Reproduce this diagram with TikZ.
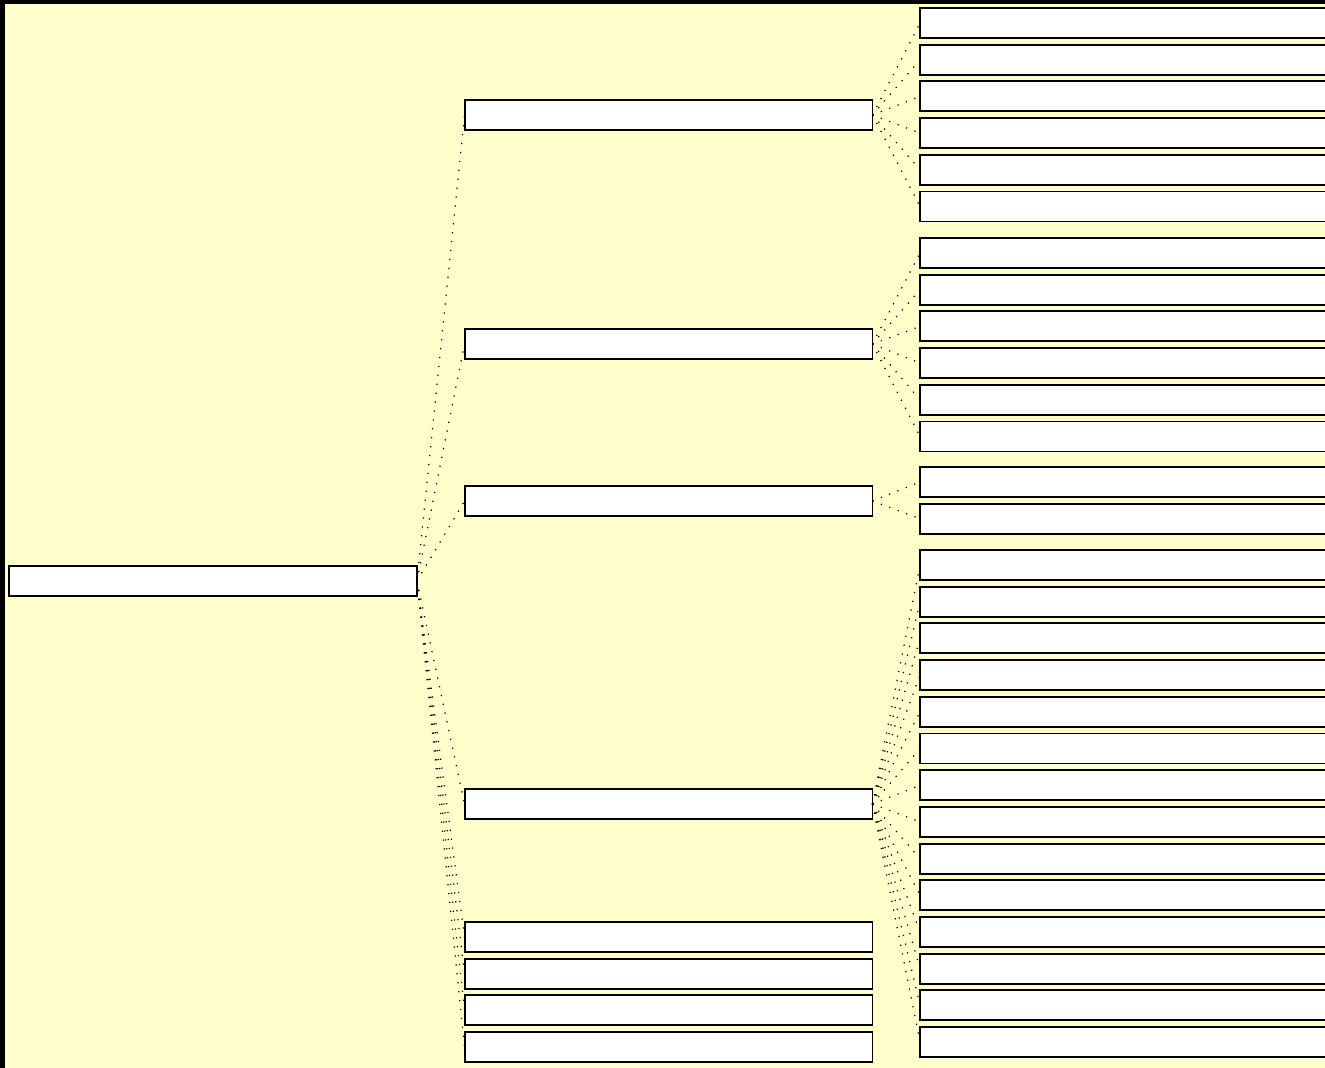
\documentclass[tikz,border=0pt]{standalone}
\usepackage{xcolor}
\usepackage{tikz}
\usetikzlibrary{positioning}
\definecolor{paleyellow}{HTML}{FFFFCC}
\begin{document}
\begin{tikzpicture}[
  x=0.02cm, y=-0.02cm,
  box/.style={draw, fill=white, line width=1.1pt, rectangle, minimum width=8.16cm, minimum height=0.6cm, inner sep=0pt, outer sep=0pt},
  link/.style={line width=0.7pt, dash pattern=on 0.7pt off 4.4pt},
]
  % Canvas
  \fill[black] (0,0) rectangle (1325,1068);
  \fill[paleyellow] (5,4) rectangle (1325,1068);
  \useasboundingbox (0,0) rectangle (1325,1068);

  % Root
  \node[box] (root) at (213,581) {};

  % First level
  \foreach \n/\y in {1/115,2/344,3/501,4/804,5/937,6/973.7,7/1010.4,8/1047.1} {
    \node[box] (c\n) at (668.5,\y) {};
    \draw[link] (root.east) -- (c\n.west);
  }

  % Second level
  \foreach \k in {1,...,6} {
    \node[box] (ga\k) at (1124,{23+36.7*(\k-1)}) {};
    \draw[link] (c1.east) -- (ga\k.west);
  }
  \foreach \k in {1,...,6} {
    \node[box] (gb\k) at (1124,{253+36.7*(\k-1)}) {};
    \draw[link] (c2.east) -- (gb\k.west);
  }
  \foreach \k in {1,2} {
    \node[box] (gc\k) at (1124,{482+36.7*(\k-1)}) {};
    \draw[link] (c3.east) -- (gc\k.west);
  }
  \foreach \k in {1,...,14} {
    \node[box] (gd\k) at (1124,{565+36.7*(\k-1)}) {};
    \draw[link] (c4.east) -- (gd\k.west);
  }
\end{tikzpicture}
\end{document}
